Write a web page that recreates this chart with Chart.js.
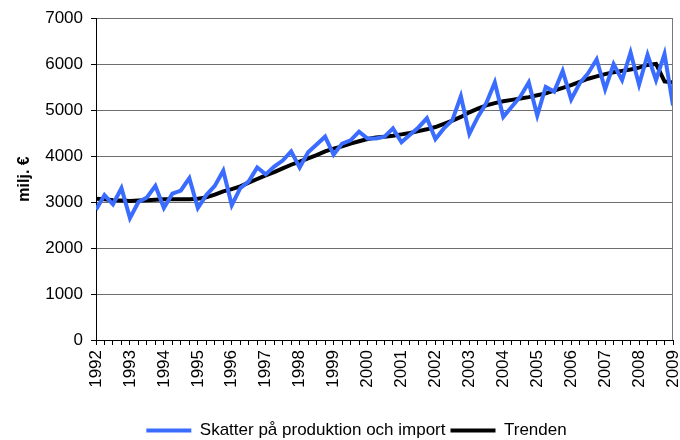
<!DOCTYPE html>
<html>
<head>
<meta charset="utf-8">
<script src="https://cdn.jsdelivr.net/npm/chart.js@4/dist/chart.umd.min.js"></script>
<style>
html,body{margin:0;padding:0;background:#fff;}
#wrap{width:680px;height:440px;}
</style>
</head>
<body>
<div id="wrap"><canvas id="c" width="680" height="440"></canvas></div>
<script>
const startYear = 1992;
const endYear = 2009;
const yTicks = [0,1000,2000,3000,4000,5000,6000,7000];
const seriesLabels = ['Skatter på produktion och import','Trenden'];
// quarterly values 1992Q1 .. 2009Q1
const taxes = [
 2830,3150,2950,3300,
 2650,3000,3100,3350,
 2870,3180,3250,3520,
 2870,3150,3350,3680,
 2930,3300,3450,3750,
 3600,3770,3900,4100,
 3750,4080,4250,4420,
 4030,4270,4340,4530,
 4380,4380,4420,4600,
 4300,4460,4620,4820,
 4370,4600,4780,5300,
 4480,4850,5150,5600,
 4850,5070,5290,5600,
 4880,5500,5400,5850,
 5230,5580,5800,6100,
 5450,6000,5650,6250,
 5550,6200,5650,6220,
 5100
];
const trend = [
 3070,3060,3040,3030,
 3020,3030,3040,3050,
 3060,3060,3060,3060,
 3070,3100,3160,3230,
 3280,3340,3420,3500,
 3580,3650,3730,3810,
 3880,3950,4020,4100,
 4160,4210,4270,4320,
 4370,4400,4420,4440,
 4470,4500,4540,4580,
 4630,4700,4770,4850,
 4950,5030,5100,5150,
 5190,5220,5250,5280,
 5320,5360,5420,5480,
 5540,5610,5680,5730,
 5780,5820,5850,5880,
 5920,5980,6000,5620,
 5600
];
const toPts = arr => arr.map((v,i)=>({x: startYear + i/4, y: v}));
const FONT = '"Liberation Sans", Arial, sans-serif';

const frame = {
  id:'frame',
  afterLayout(chart){
    // place legend like the reference (slightly right of centre, near bottom edge)
    const lg = chart.legend;
    if (lg) { lg.left = 40; lg.right = 673; lg.top = lg.top + 9; lg.bottom = lg.bottom + 9; }
  },
  afterDatasetsDraw(chart){
    const {ctx, chartArea:a} = chart;
    ctx.save();
    ctx.strokeStyle = '#777';
    ctx.lineWidth = 1;
    ctx.beginPath();
    ctx.moveTo(a.right-0.5, a.top);
    ctx.lineTo(a.right-0.5, a.bottom);
    ctx.stroke();
    ctx.restore();
  }
};

new Chart(document.getElementById('c'), {
  type:'line',
  data:{
    datasets:[
      {label:seriesLabels[0], data:toPts(taxes), borderColor:'#3a6cff', backgroundColor:'#3a6cff', borderWidth:4, pointRadius:0, tension:0},
      {label:seriesLabels[1], data:toPts(trend), borderColor:'#000000', backgroundColor:'#000000', borderWidth:4, pointRadius:0, tension:0}
    ]
  },
  options:{
    responsive:false,
    animation:false,
    layout:{padding:{left:10,right:7,top:18,bottom:0}},
    plugins:{
      legend:{
        position:'bottom',
        labels:{
          usePointStyle:true, pointStyle:'line', pointStyleWidth:45,
          color:'#000', font:{family:FONT, size:17},
          padding:5, boxHeight:4
        }
      },
      tooltip:{enabled:false}
    },
    scales:{
      x:{
        type:'linear', min:startYear, max:endYear,
        afterBuildTicks(s){
          const t=[]; for(let i=0;i<=(endYear-startYear)*4;i++) t.push({value:startYear+i/4});
          s.ticks=t;
        },
        afterFit(s){ s.height = 68; s.paddingLeft = 0; s.paddingRight = 0; },
        ticks:{
          autoSkip:false, maxRotation:90, minRotation:90, padding:5,
          color:'#000', font:{family:FONT, size:17},
          callback:(v)=> Number.isInteger(v) ? String(v) : ''
        },
        grid:{drawOnChartArea:false, drawTicks:true, tickLength:5, color:'#000'},
        border:{color:'#000', width:1}
      },
      y:{
        min:0, max:7000,
        afterBuildTicks(s){ s.ticks = yTicks.map(v=>({value:v})); },
        afterFit(s){ s.width = 86; s.paddingTop = 0; s.paddingBottom = 0; },
        ticks:{color:'#000', padding:8, font:{family:FONT, size:17}, callback:(v)=>String(v)},
        grid:{color:'#6e6e6e', tickLength:5, drawTicks:true, tickColor:'#000'},
        border:{color:'#000', width:1},
        title:{display:true, text:'milj. €', color:'#000', padding:{top:5,bottom:0}, font:{family:FONT, size:16, weight:'bold'}}
      }
    }
  },
  plugins:[frame]
});
</script>
</body>
</html>
